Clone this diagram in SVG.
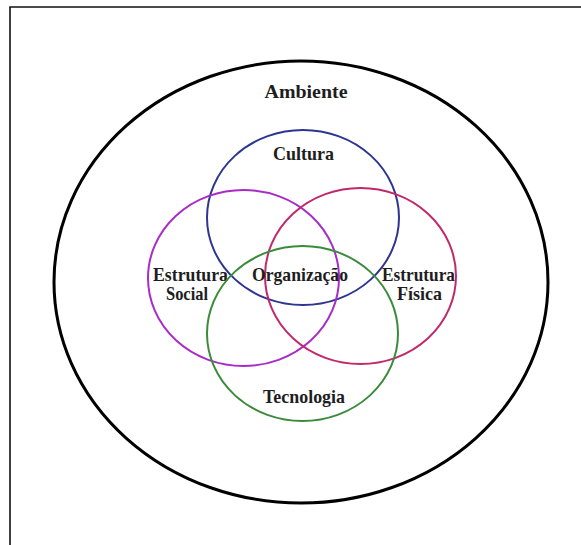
<svg xmlns="http://www.w3.org/2000/svg" width="581" height="545" viewBox="0 0 581 545">
<style>
.lbl{font-family:"Liberation Serif","Times New Roman",serif;font-weight:bold;font-size:19px;fill:#1e1e1e;text-anchor:middle}
.c{fill:none;stroke-width:2}
</style>
<rect width="581" height="545" fill="#fff"/>
<path d="M10,545 V7 H581" fill="none" stroke="#111" stroke-width="1.6"/>
<g id="ambiente">
<ellipse cx="301" cy="282" rx="247" ry="221" fill="none" stroke="#000" stroke-width="3"/>
<text class="lbl" x="306" y="98" textLength="83" lengthAdjust="spacingAndGlyphs">Ambiente</text>
</g>
<g id="cultura">
<ellipse class="c" cx="303" cy="217.5" rx="96" ry="87.5" stroke="#2e3590"/>
<text class="lbl" x="303.5" y="160" textLength="61" lengthAdjust="spacingAndGlyphs">Cultura</text>
</g>
<g id="estrutura-social">
<ellipse class="c" cx="243.5" cy="278" rx="95.5" ry="88" stroke="#a82cc8"/>
<text class="lbl" x="190.5" y="281" textLength="75" lengthAdjust="spacingAndGlyphs">Estrutura</text>
<text class="lbl" x="187" y="300" textLength="42" lengthAdjust="spacingAndGlyphs">Social</text>
</g>
<g id="estrutura-fisica">
<ellipse class="c" cx="360.5" cy="276" rx="95.5" ry="88" stroke="#c02a6a"/>
<text class="lbl" x="418.5" y="281" textLength="73" lengthAdjust="spacingAndGlyphs">Estrutura</text>
<text class="lbl" x="419.5" y="300" textLength="45" lengthAdjust="spacingAndGlyphs">Física</text>
</g>
<g id="tecnologia">
<ellipse class="c" cx="302.5" cy="333.5" rx="95.5" ry="87.5" stroke="#3c8a3c"/>
<text class="lbl" x="304" y="403" textLength="82" lengthAdjust="spacingAndGlyphs">Tecnologia</text>
</g>
<g id="organizacao">
<text class="lbl" x="300" y="281" textLength="96" lengthAdjust="spacingAndGlyphs">Organização</text>
</g>
</svg>
